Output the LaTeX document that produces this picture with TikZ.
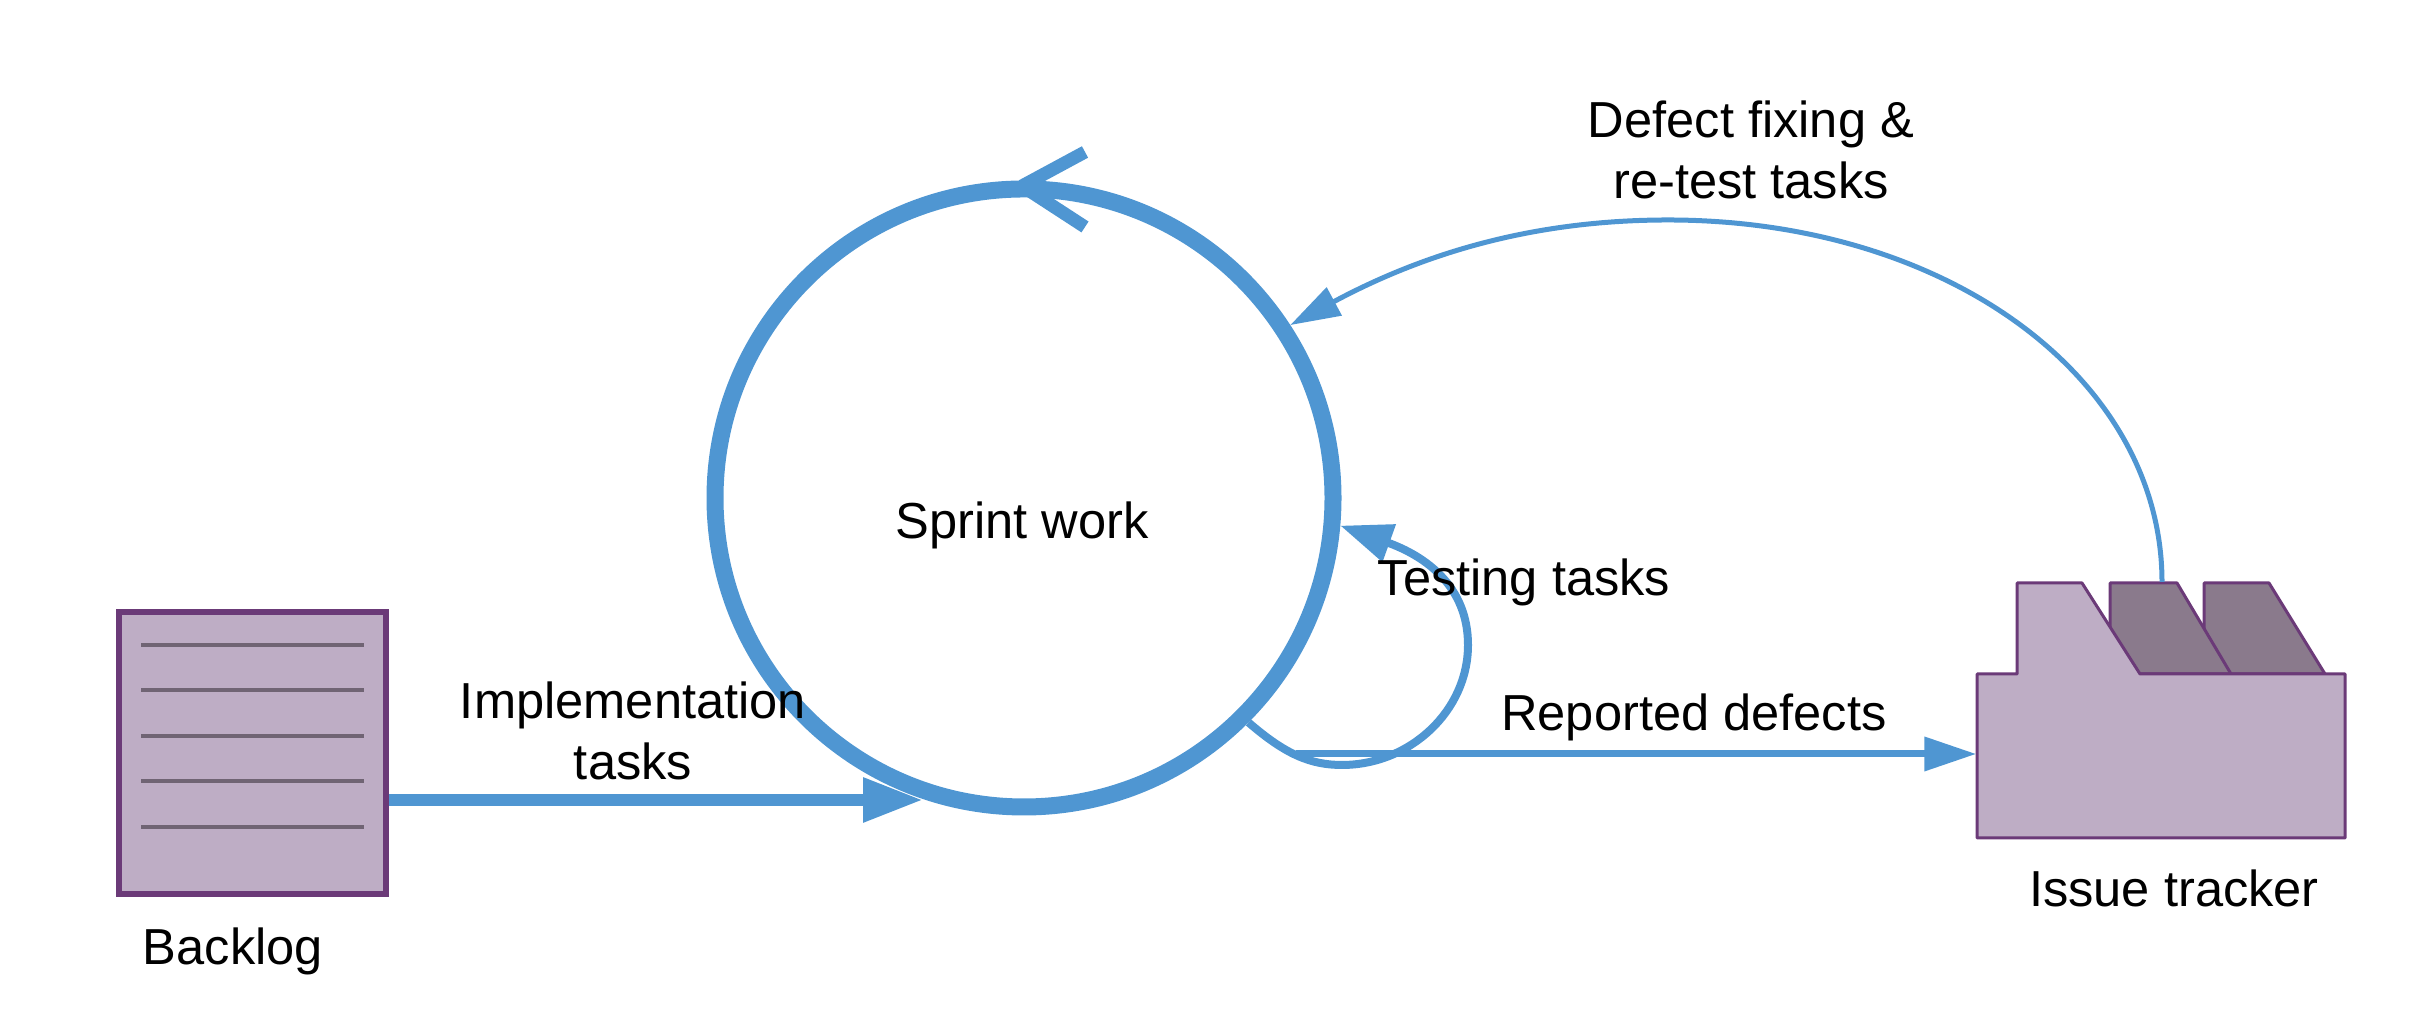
\documentclass[tikz,border=0pt]{standalone}
\usepackage{fontspec}
\setmainfont{Liberation Sans}
\usetikzlibrary{arrows.meta}
\definecolor{flow}{RGB}{79,150,210}
\definecolor{boxfill}{RGB}{190,173,197}
\definecolor{boxedge}{RGB}{107,58,120}
\definecolor{boxrule}{RGB}{112,100,116}
\definecolor{darkfill}{RGB}{138,122,140}
\tikzset{
  txt/.style={font=\fontsize{14.4}{17.4}\selectfont,align=center,inner sep=0pt},
  stack/.style={draw=boxedge,fill=boxfill,line width=.06cm},
  stackrule/.style={draw=boxrule,line width=.04cm},
  tower/.style={draw=boxedge,fill=darkfill,line width=.03cm,line join=round},
  plant/.style={draw=boxedge,fill=boxfill,line width=.03cm,line join=round},
}
\begin{document}
\begin{tikzpicture}
  \useasboundingbox (0,0) rectangle (24.10,10.26);

  \node[shape=circle,draw=flow,line width=.17cm,minimum size=6.18cm] (sprint) at (10.24,5.28) {};
  \node[stack,minimum width=2.67cm,minimum height=2.82cm] (backlog) at (2.525,2.73) {};
  \node[minimum width=3.68cm,minimum height=1.64cm] (tracker) at (21.61,2.70) {};

  \draw[stackrule] (1.41,3.81) -- (3.64,3.81);
  \draw[stackrule] (1.41,3.36) -- (3.64,3.36);
  \draw[stackrule] (1.41,2.90) -- (3.64,2.90);
  \draw[stackrule] (1.41,2.45) -- (3.64,2.45);
  \draw[stackrule] (1.41,1.99) -- (3.64,1.99);

  \draw[tower] (22.04,4.43) -- (22.04,3.52) -- (23.25,3.52) -- (22.69,4.43) -- cycle;
  \draw[tower] (21.10,4.43) -- (21.10,3.52) -- (22.31,3.52) -- (21.77,4.43) -- cycle;
  \draw[plant] (19.77,1.88) -- (19.77,3.52) -- (20.17,3.52) -- (20.17,4.43) -- (20.82,4.43)
    -- (21.40,3.52) -- (23.45,3.52) -- (23.45,1.88) -- cycle;

  \coordinate (implend) at (9.23,2.26);
  \coordinate (reportstart) at (12.96,2.72);
  \coordinate (towertop) at (21.62,4.44);

  \draw[flow,line width=.12cm,-{Triangle[length=.6cm,width=.42cm]}] (backlog.east |- implend) -- (implend);
  \draw[flow,line width=.07cm,-{Triangle[length=.52cm,width=.33cm]}] (reportstart) -- (reportstart -| tracker.west);
  \draw[flow,line width=.08cm,-{Triangle[length=.52cm,width=.38cm]}] (sprint.-45)
    .. controls (12.85,2.72) and (13.10,2.61) .. (13.42,2.61)
    .. controls (14.10,2.61) and (14.68,3.15) .. (14.68,3.81)
    .. controls (14.68,4.40) and (14.25,4.70) .. (sprint.-5);
  \draw[flow,line width=.05cm,-{Triangle[length=.5cm,width=.31cm]}] (towertop)
    .. controls (21.62,6.46) and (19.50,8.06) .. (16.68,8.06)
    .. controls (15.40,8.06) and (14.30,7.76) .. (sprint.33);

  \coordinate (sprinttop) at (10.22,8.40);
  \draw[flow,line width=.13cm,line join=bevel] (10.85,8.74) -- (sprinttop) -- (10.85,7.99);

  \node[txt] (sprintlabel) at (10.22,5.01) {Sprint work};
  \node[txt] (impllabel) at (6.33,2.95) {Implementation\\tasks};
  \node[txt] (backloglabel) at (2.33,0.75) {Backlog};
  \node[txt] (testlabel) at (15.24,4.44) {Testing tasks};
  \node[txt] (reportlabel) at (16.94,3.09) {Reported defects};
  \node[txt] (fixlabel) at (17.51,8.76) {Defect fixing \&\\re-test tasks};
  \node[txt] (trackerlabel) at (21.74,1.38) {Issue tracker};
\end{tikzpicture}
\end{document}
